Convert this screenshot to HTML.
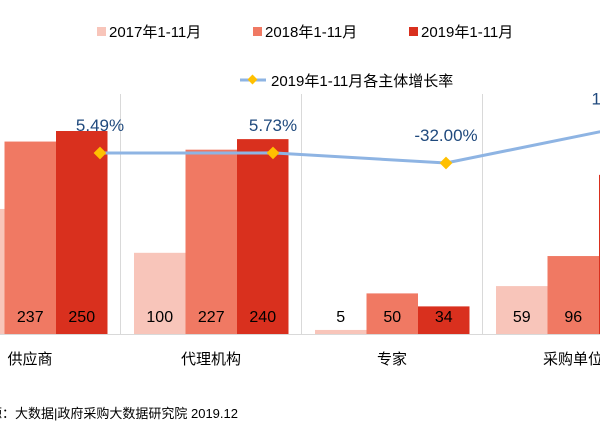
<!DOCTYPE html>
<html><head><meta charset="utf-8"><style>
html,body{margin:0;padding:0;background:#fff;width:600px;height:429px;overflow:hidden}
text{font-family:"Liberation Sans","Noto Sans CJK SC",sans-serif}
</style></head><body>
<svg id="chart" width="600" height="429" viewBox="0 0 600 429">
<g id="grid"></g>
<g id="bars"></g>
<g id="line"></g>
<g id="xlabels"></g>
<g>
  <rect x="97" y="27" width="9" height="9" fill="#F8C5BA"/>
  <text x="109" y="37" font-size="15" fill="#000">2017年1-11月</text>
  <rect x="253" y="27" width="9" height="9" fill="#F07963"/>
  <text x="265" y="37" font-size="15" fill="#000">2018年1-11月</text>
  <rect x="409" y="27" width="9" height="9" fill="#D9301E"/>
  <text x="421" y="37" font-size="15" fill="#000">2019年1-11月</text>
  <line x1="240" y1="80" x2="266" y2="80" stroke="#8EB4E3" stroke-width="3"/>
  <rect x="249" y="76" width="7" height="7" fill="#FFC000" transform="rotate(45 252.5 79.5)"/>
  <text x="271" y="86" font-size="15" fill="#000">2019年1-11月各主体增长率</text>
</g>
<text x="-50" y="418" font-size="13" fill="#000">数据来源：大数据|政府采购大数据研究院 2019.12</text>
</svg>
<script>
const categories=["供应商","代理机构","专家","采购单位"];
const v2017=[154,100,5,59];
const v2018=[237,227,50,96];
const v2019=[250,240,34,196];
const growth=[5.49,5.73,-32.00,104.17];
const growthLabels=["5.49%","5.73%","-32.00%","104.17%"];
const NS="http://www.w3.org/2000/svg";
const base=334, pxPerUnit=0.812, catW=181, first=30, bw=51.5;
function cx(i){return first+i*catW;}
function yv(v){return base-v*pxPerUnit;}
function yg(g){return 153-(g-5.49)*0.267;}
function mk(tag,attrs,parent){const e=document.createElementNS(NS,tag);for(const k in attrs)e.setAttribute(k,attrs[k]);parent.appendChild(e);return e;}
const grid=document.getElementById('grid'),bars=document.getElementById('bars'),line=document.getElementById('line'),xl=document.getElementById('xlabels');
for(let i=0;i<=categories.length;i++){
  const x=cx(i)-catW/2;
  const l=mk('line',{x1:x,y1:94,x2:x,y2:base,stroke:'#d9d9d9','stroke-width':1},grid);
  
  
}
const ax=mk('line',{x1:0,y1:base+0.5,x2:600,y2:base+0.5,stroke:'#d9d9d9','stroke-width':1},grid);


const series=[[v2017,'#F8C5BA','2017'],[v2018,'#F07963','2018'],[v2019,'#D9301E','2019']];
categories.forEach((c,i)=>{
  series.forEach((s,j)=>{
    const x=cx(i)-77+j*bw, v=s[0][i];
    const r=mk('rect',{x:x,y:yv(v),width:bw,height:v*pxPerUnit,fill:s[1]},bars);
    
    
    const t=mk('text',{x:x+bw/2,y:322,'font-size':16,'text-anchor':'middle',fill:'#000'},bars);
    t.textContent=v;
    
    
  });
  const t=mk('text',{x:cx(i),y:364,'font-size':15,'text-anchor':'middle',fill:'#000'},xl);
  t.textContent=c;
  
  
});
const pts=growth.map((g,i)=>[cx(i)+52+(i===0?19:i===1?10:0),yg(g)]);
pts[0][0]=100;pts[1][0]=273;pts[2][0]=446;pts[3][0]=625;
const pl=mk('polyline',{points:pts.map(p=>p.join(',')).join(' '),fill:'none',stroke:'#8EB4E3','stroke-width':3},line);


pts.forEach((p,i)=>{
  const m=mk('rect',{x:p[0]-4.5,y:p[1]-4.5,width:9,height:9,fill:'#FFC000',transform:'rotate(45 '+p[0]+' '+p[1]+')'},line);
  
  
  const t=mk('text',{x:p[0],y:p[1]-22,'font-size':17,'text-anchor':'middle',fill:'#1F497D'},line);
  t.textContent=growthLabels[i];
  
  
});
</script>
</body></html>
